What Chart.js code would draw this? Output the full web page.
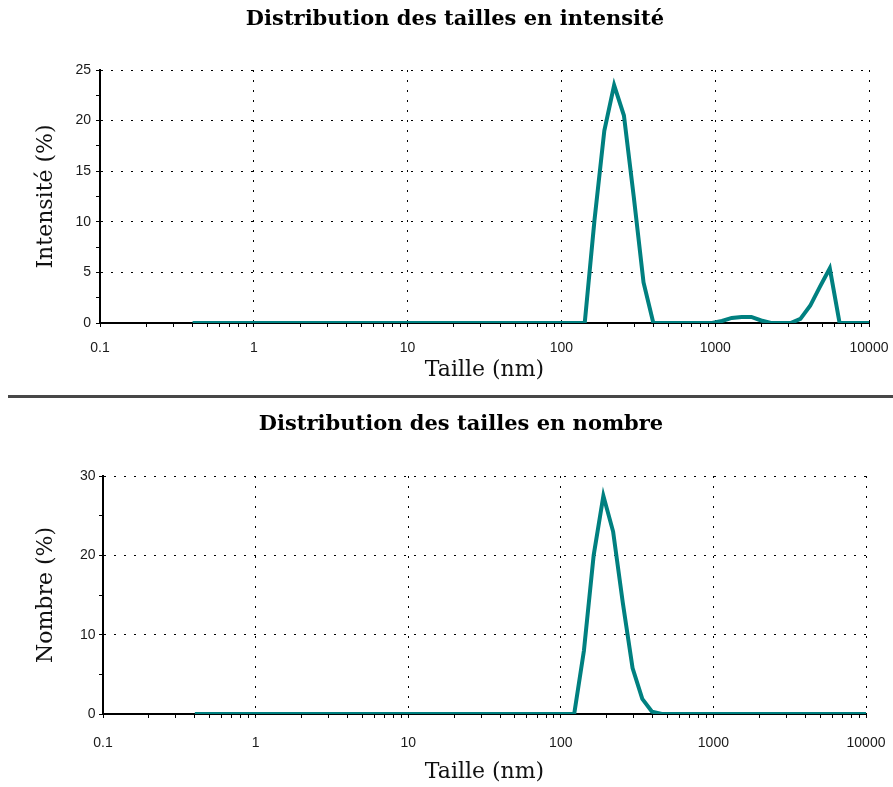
<!DOCTYPE html>
<html>
<head>
<meta charset="utf-8">
<script src="https://cdn.jsdelivr.net/npm/chart.js@4.4.1/dist/chart.umd.min.js"></script>
<style>
html,body{margin:0;padding:0;background:#fff;overflow:hidden;width:893px;height:787px;}
canvas{position:absolute;left:0;}
#c1{top:0;}
#sep{position:absolute;left:8px;top:395px;width:885px;height:3px;background:#474747;}
#c2{top:399px;}
</style>
</head>
<body>
<canvas id="c1" width="893" height="394" style="width:893px;height:394px"></canvas>
<div id="sep"></div>
<canvas id="c2" width="893" height="388" style="width:893px;height:388px"></canvas>
<script>
// ---- Data ----
const sizes = [0.4, 0.4632, 0.5365, 0.6213, 0.7195, 0.8332, 0.9649, 1.117, 1.294, 1.499,
  1.736, 2.01, 2.328, 2.696, 3.122, 3.615, 4.187, 4.849, 5.615, 6.503,
  7.531, 8.721, 10.1, 11.7, 13.54, 15.69, 18.17, 21.04, 24.36, 28.21,
  32.67, 37.84, 43.82, 50.75, 58.77, 68.06, 78.82, 91.28, 105.7, 122.4,
  141.8, 164.2, 190.1, 220.2, 255, 295.3, 342, 396.1, 458.7, 531.2,
  615.1, 712.4, 825, 955.4, 1106, 1281, 1484, 1718, 1990, 2305,
  2669, 3091, 3580, 4145, 4801, 5560, 6439, 7456, 8635, 10000];

const intensity = [0, 0, 0, 0, 0, 0, 0, 0, 0, 0,
  0, 0, 0, 0, 0, 0, 0, 0, 0, 0,
  0, 0, 0, 0, 0, 0, 0, 0, 0, 0,
  0, 0, 0, 0, 0, 0, 0, 0, 0, 0,
  0, 10.2, 19.0, 23.5, 20.5, 12.5, 4.0, 0, 0, 0,
  0, 0, 0, 0, 0.2, 0.5, 0.6, 0.6, 0.25, 0,
  0, 0, 0.4, 1.7, 3.6, 5.4, 0, 0, 0, 0];

const number = [0, 0, 0, 0, 0, 0, 0, 0, 0, 0,
  0, 0, 0, 0, 0, 0, 0, 0, 0, 0,
  0, 0, 0, 0, 0, 0, 0, 0, 0, 0,
  0, 0, 0, 0, 0, 0, 0, 0, 0, 0,
  8.0, 20.0, 27.5, 23.0, 14.0, 5.8, 1.9, 0.3, 0, 0,
  0, 0, 0, 0, 0, 0, 0, 0, 0, 0,
  0, 0, 0, 0, 0, 0, 0, 0, 0, 0];

const xMajorTicks = [0.1, 1, 10, 100, 1000, 10000];
const xMinorMultipliers = [2, 3, 4, 5, 6, 7, 8, 9];
const xTitle = 'Taille (nm)';
const titleIntensity = 'Distribution des tailles en intensité';
const titleNumber = 'Distribution des tailles en nombre';
const yTitleIntensity = 'Intensité (%)';
const yTitleNumber = 'Nombre (%)';

// ---- Styling ----
const LINE_COLOR = '#008080';
const TICK_FAMILY = "'Liberation Sans', Arial, sans-serif";
const AXIS_TITLE_FONT = {family: "'DejaVu Serif', serif", size: 22, lineHeight: 1.2};
const TITLE_FONT = {family: "'DejaVu Serif', serif", size: 21, weight: 'bold', lineHeight: 1.2};
const TEXT_COLOR = '#1a1a1a';

function isDecade(v) {
  const l = Math.log10(v);
  return Math.abs(l - Math.round(l)) < 1e-6;
}
const xTicks = [];
xMajorTicks.forEach((m, i) => {
  xTicks.push(m);
  if (i < xMajorTicks.length - 1) xMinorMultipliers.forEach(k => xTicks.push(+(m * k).toPrecision(6)));
});
function isMult(v, step) {
  const r = v / step;
  return Math.abs(r - Math.round(r)) < 1e-6;
}

function build(canvasId, cfg) {
  return new Chart(document.getElementById(canvasId), {
    type: 'line',
    data: {
      datasets: [{
        data: sizes.map((s, i) => ({x: s, y: cfg.values[i]})),
        borderColor: LINE_COLOR,
        borderWidth: 4,
        pointRadius: 0,
        tension: 0,
        fill: false
      }]
    },
    options: {
      responsive: false,
      devicePixelRatio: 1,
      animation: false,
      layout: {padding: cfg.padding},
      plugins: {
        legend: {display: false},
        tooltip: {enabled: false},
        title: {display: true, text: cfg.title, color: '#000', font: TITLE_FONT, padding: cfg.titlePad}
      },
      scales: {
        x: {
          type: 'logarithmic',
          min: 0.1,
          max: 10000,
          afterBuildTicks: s => { s.ticks = xTicks.map(v => ({value: v})); },
          afterFit: s => { s.height = cfg.xHeight; },
          ticks: {
            autoSkip: false, maxRotation: 0, minRotation: 0,
            padding: 4, color: TEXT_COLOR,
            font: {family: TICK_FAMILY, size: 14, lineHeight: cfg.xTickLH},
            callback: v => isDecade(v) ? String(v) : ''
          },
          grid: {
            color: c => (c.tick && isDecade(c.tick.value)) ? '#000' : 'rgba(0,0,0,0)',
            lineWidth: 1, tickColor: '#000', tickLength: 4, tickWidth: 1
          },
          border: {display: true, color: '#000', width: 2, dash: [2, 8]},
          title: {display: true, text: xTitle, color: '#111', font: AXIS_TITLE_FONT, padding: {top: 0, bottom: cfg.xTitlePad}}
        },
        y: {
          min: 0,
          max: cfg.yMax,
          afterFit: s => { s.width = cfg.yWidth; },
          ticks: {
            stepSize: cfg.yStep, padding: cfg.yTickPad, color: TEXT_COLOR,
            font: {family: TICK_FAMILY, size: 14, lineHeight: 1.2},
            callback: v => isMult(v, cfg.yLabelStep) ? String(v) : ''
          },
          grid: {
            color: c => (c.tick && isMult(c.tick.value, cfg.yLabelStep)) ? '#000' : 'rgba(0,0,0,0)',
            lineWidth: 1, tickColor: '#000', tickLength: 4, tickWidth: 1
          },
          border: {display: true, color: '#000', width: 2, dash: [2, 8]},
          title: {display: true, text: cfg.yTitle, color: '#111', font: AXIS_TITLE_FONT, padding: {top: cfg.yTitlePad, bottom: 0}}
        }
      }
    }
  });
}

build('c1', {
  values: intensity, title: titleIntensity, yTitle: yTitleIntensity,
  yMax: 25, yStep: 2.5, yLabelStep: 5,
  padding: {left: 41, right: 24, top: 0, bottom: 0},
  titlePad: {top: 7.1, bottom: 37.7},
  yWidth: 59, xHeight: 71, xTickLH: 2.45, xTitlePad: 10.4, yTickPad: 5, yTitlePad: -7.8
});

build('c2', {
  values: number, title: titleNumber, yTitle: yTitleNumber,
  yMax: 30, yStep: 5, yLabelStep: 10,
  padding: {left: 56, right: 27, top: 0, bottom: 0},
  titlePad: {top: 13.1, bottom: 38.7},
  yWidth: 47, xHeight: 73, xTickLH: 3.02, xTitlePad: 1.4, yTickPad: 3.5, yTitlePad: -22.8
});
</script>
</body>
</html>
